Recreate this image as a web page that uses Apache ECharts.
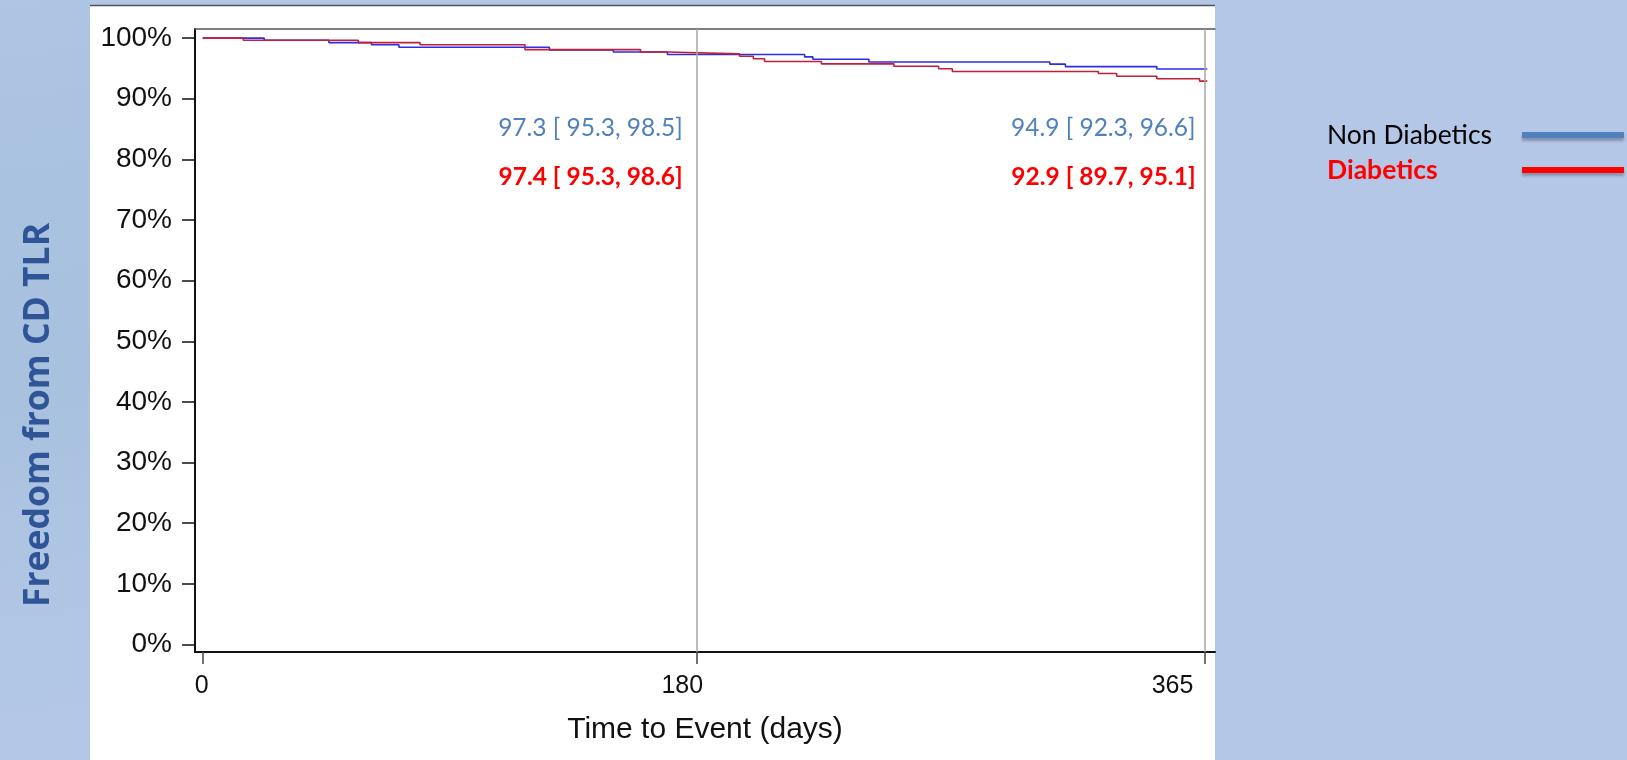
<!DOCTYPE html>
<html>
<head>
<meta charset="utf-8">
<script src="https://cdn.jsdelivr.net/npm/echarts@6/dist/echarts.min.js"></script>
<style>
  html, body { margin: 0; padding: 0; background: #b4c7e7; }
  #chart { width: 1627px; height: 760px; }
</style>
</head>
<body>
<div id="chart"></div>
<script>
// Kaplan-Meier freedom from CD TLR, by diabetic status (days, % event-free)
const nonDiabDays = [0, 22.4, 46.0, 61.5, 71.5, 126.3, 149.6, 169.3, 219.3, 222.3, 242.7, 308.6, 314.3, 347.6, 366];
const nonDiabSurv = [100, 99.65, 99.25, 98.9, 98.5, 98.05, 97.7, 97.3, 96.9, 96.5, 96.05, 95.7, 95.3, 94.9, 94.9];

const diabDays = [0, 14.8, 56.7, 79.2, 117.4, 159.5, 169.3, 195.6, 200.6, 204.7, 225.4, 251.8, 268.1, 273.1, 326.3, 333.0, 347.6, 363.2, 366];
const diabSurv = [100, 99.65, 99.25, 98.9, 98.1, 97.7, 97.4, 97.0, 96.6, 96.15, 95.75, 95.35, 94.95, 94.5, 94.15, 93.7, 93.3, 92.9, 92.9];

// Landmark estimates with 95% CI
const landmarkDays = [180, 365];
const nonDiabEst = [97.3, 94.9];
const nonDiabLo = [95.3, 92.3];
const nonDiabHi = [98.5, 96.6];
const diabEst = [97.4, 92.9];
const diabLo = [95.3, 89.7];
const diabHi = [98.6, 95.1];

// Axis ticks
const xTicks = [0, 180, 365];
const yTicks = [0, 10, 20, 30, 40, 50, 60, 70, 80, 90, 100];

const seriesNames = ['Non Diabetics', 'Diabetics'];
const yTitle = 'Freedom from CD TLR';
const xTitle = 'Time to Event (days)';

const zip = (a, b) => a.map((v, i) => [v, b[i]]);
const fmtCI = (e, l, h) => `${e.toFixed(1)} [ ${l.toFixed(1)}, ${h.toFixed(1)}]`;

const chart = echarts.init(document.getElementById('chart'), null, { renderer: 'canvas' });

const axisFont = 'Liberation Sans, Arial, sans-serif';
const labelShift = { 0: 2, 180: 29, 365: 64 };
const xRich = {};
xTicks.forEach(t => {
  xRich['t' + t] = { fontFamily: axisFont, fontSize: 25, color: '#111', padding: [0, labelShift[t] || 0, 0, 0] };
});

const option = {
  backgroundColor: '#b4c7e7',
  animation: false,
  grid: { left: 195, top: 29, width: 1020, height: 623, outerBoundsMode: 'none', containLabel: false },
  xAxis: [
    {
      type: 'value', min: -2.8, max: 368.8, position: 'bottom',
      axisLine: { show: true, onZero: false, lineStyle: { color: '#111', width: 2 } },
      axisTick: { show: true, customValues: xTicks, length: 12, lineStyle: { color: '#444', width: 1.5 } },
      axisLabel: {
        show: true, customValues: xTicks, margin: 22,
        formatter: v => `{t${v}|${v}}`, rich: xRich,
        fontFamily: axisFont, fontSize: 25, color: '#111'
      },
      splitLine: { show: false },
      name: xTitle, nameLocation: 'middle', nameGap: 63,
      nameTextStyle: { fontFamily: axisFont, fontSize: 30, color: '#111' }
    },
    {
      type: 'value', min: -2.8, max: 368.8, position: 'top',
      axisLine: { show: true, onZero: false, lineStyle: { color: '#555', width: 1.5 } },
      axisTick: { show: false }, axisLabel: { show: false }, splitLine: { show: false }
    }
  ],
  yAxis: {
    type: 'value', min: -1.25, max: 101.5,
    axisLine: { show: true, onZero: false, lineStyle: { color: '#111', width: 2 } },
    axisTick: { show: true, customValues: yTicks, length: 13, lineStyle: { color: '#111', width: 1.5 } },
    axisLabel: {
      show: true, customValues: yTicks, margin: 23,
      formatter: v => v + '%',
      fontFamily: axisFont, fontSize: 28, color: '#111'
    },
    splitLine: { show: false }
  },
  legend: [
    {
      // line keys
      orient: 'vertical', left: 1517, top: 115, align: 'left',
      icon: 'rect', itemWidth: 102, itemHeight: 6, itemGap: 5,
      formatter: () => ' ',
      textStyle: { fontFamily: 'Lato', fontSize: 26.5, lineHeight: 30 },
      selectedMode: false,
      data: [
        { name: seriesNames[0], itemStyle: { color: '#4f81bd', shadowColor: 'rgba(60,60,80,0.4)', shadowBlur: 3, shadowOffsetY: 3 } },
        { name: seriesNames[1], itemStyle: { color: '#ff0000', shadowColor: 'rgba(60,60,80,0.4)', shadowBlur: 3, shadowOffsetY: 3 } }
      ]
    },
    {
      // key texts
      orient: 'vertical', left: 1317, top: 115, align: 'left',
      icon: 'none', itemWidth: 0, itemHeight: 6, itemGap: 5,
      textStyle: { fontFamily: 'Lato', fontSize: 26.5, lineHeight: 30 },
      selectedMode: false,
      data: [
        { name: seriesNames[0], textStyle: { color: '#000', fontWeight: 'normal' } },
        { name: seriesNames[1], textStyle: { color: '#ff0000', fontWeight: 'bold' } }
      ]
    }
  ],
  series: [
    {
      name: seriesNames[0], type: 'line', step: 'end', showSymbol: false, symbol: 'none',
      data: zip(nonDiabDays, nonDiabSurv),
      lineStyle: { color: '#2d2de6', width: 1.6 }, itemStyle: { color: '#2d2de6' },
      z: 3,
      markLine: {
        silent: true, symbol: ['none', 'none'], label: { show: false },
        lineStyle: { color: '#a6a6a6', width: 1.5, type: 'solid' },
        data: landmarkDays.map(d => ({ xAxis: d }))
      }
    },
    {
      name: seriesNames[1], type: 'line', step: 'end', showSymbol: false, symbol: 'none',
      data: zip(diabDays, diabSurv),
      lineStyle: { color: '#c41e3a', width: 1.6 }, itemStyle: { color: '#c41e3a' },
      z: 4
    }
  ],
  graphic: {
    elements: [
      { type: 'rect', id: 'leftHaze', z: -20, shape: { x: 0, y: 0, width: 90, height: 760 },
        style: { fill: new echarts.graphic.LinearGradient(0, 0, 1, 1, [
          { offset: 0, color: 'rgba(170,195,225,0.6)' },
          { offset: 0.5, color: 'rgba(150,185,210,0.45)' },
          { offset: 1, color: 'rgba(180,199,231,0.2)' }
        ]) } },
      { type: 'rect', id: 'panel', z: -10, shape: { x: 90, y: 5, width: 1125, height: 760 }, style: { fill: '#ffffff' } },
      { type: 'line', id: 'panelTop', z: -9, shape: { x1: 90, y1: 5.5, x2: 1215, y2: 5.5 }, style: { stroke: '#4a5560', lineWidth: 1.5 } },
      { type: 'text', id: 'yTitle', x: 39, y: 415, rotation: Math.PI / 2,
        style: { text: yTitle, fill: '#2f5597', fontFamily: 'Open Sans', fontWeight: 'bold', fontSize: 35.5, align: 'center', verticalAlign: 'middle' } }
    ]
  }
};

chart.setOption(option);

// CI annotations placed to the left of each landmark line
const gaps = [14, 9];
const annot = [];
landmarkDays.forEach((d, i) => {
  const px = chart.convertToPixel({ xAxisIndex: 0 }, d) - gaps[i];
  annot.push({ type: 'text', id: 'nd' + i, x: px, y: 128,
    style: { text: fmtCI(nonDiabEst[i], nonDiabLo[i], nonDiabHi[i]), fill: '#4f81bd', fontFamily: 'Lato', fontSize: 24.5, align: 'right', verticalAlign: 'middle' } });
  annot.push({ type: 'text', id: 'd' + i, x: px, y: 177,
    style: { text: fmtCI(diabEst[i], diabLo[i], diabHi[i]), fill: '#ff0000', fontFamily: 'Lato', fontWeight: 'bold', fontSize: 24.5, align: 'right', verticalAlign: 'middle' } });
});
chart.setOption({ graphic: { elements: annot } });
</script>
</body>
</html>
